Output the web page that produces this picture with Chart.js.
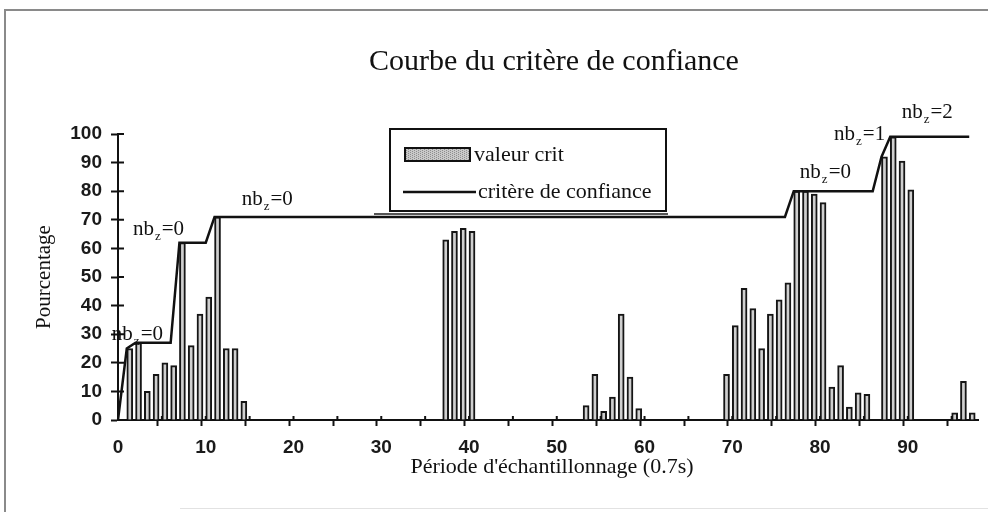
<!DOCTYPE html>
<html>
<head>
<meta charset="utf-8">
<title>Courbe du critère de confiance</title>
<script src="https://cdn.jsdelivr.net/npm/chart.js@4.4.1/dist/chart.umd.min.js"></script>
<style>
body { margin: 0; background: #fff; }
#box { width: 988px; height: 524px; }
</style>
</head>
<body>
<div id="box"><canvas id="myChart" width="988" height="524"></canvas></div>
<script>
// periodes 0..98 (axe des abscisses)
const periodes = Array.from({ length: 99 }, (_, i) => String(i));
const xTicks = [0, 10, 20, 30, 40, 50, 60, 70, 80, 90];
const yTicks = [0, 10, 20, 30, 40, 50, 60, 70, 80, 90, 100];

// valeur crit, une barre par periode (0..97)
const valeurCrit = [
  0, 25, 27, 10, 16, 20, 19, 62, 26, 37,
  43, 71, 25, 25, 6.5, 0, 0, 0, 0, 0,
  0, 0, 0, 0, 0, 0, 0, 0, 0, 0,
  0, 0, 0, 0, 0, 0, 0, 63, 66, 67,
  66, 0, 0, 0, 0, 0, 0, 0, 0, 0,
  0, 0, 0, 5, 16, 3, 8, 37, 15, 4,
  0, 0, 0, 0, 0, 0, 0, 0, 0, 16,
  33, 46, 39, 25, 37, 42, 48, 80, 80, 79,
  76, 11.5, 19, 4.5, 9.5, 9, 0, 92, 99, 90.5,
  80.5, 0, 0, 0, 0, 2.5, 13.5, 2.5
];

// critere de confiance (0..97)
const critereConfiance = [
  0, 25, 27, 27, 27, 27, 27, 62, 62, 62,
  62, 71, 71, 71, 71, 71, 71, 71, 71, 71,
  71, 71, 71, 71, 71, 71, 71, 71, 71, 71,
  71, 71, 71, 71, 71, 71, 71, 71, 71, 71,
  71, 71, 71, 71, 71, 71, 71, 71, 71, 71,
  71, 71, 71, 71, 71, 71, 71, 71, 71, 71,
  71, 71, 71, 71, 71, 71, 71, 71, 71, 71,
  71, 71, 71, 71, 71, 71, 71, 80, 80, 80,
  80, 80, 80, 80, 80, 80, 80, 92, 99, 99,
  99, 99, 99, 99, 99, 99, 99, 99
];

// etiquettes nb_z (position en coordonnees du graphe)
const nbzLabels = [
  { suffix: '=0', x: -0.7, y: 28 },
  { suffix: '=0', x: 1.7, y: 64.7 },
  { suffix: '=0', x: 14.1, y: 75.2 },
  { suffix: '=0', x: 77.7, y: 84.6 },
  { suffix: '=1', x: 81.6, y: 98 },
  { suffix: '=2', x: 89.3, y: 105.5 }
];

const serif = '"Liberation Serif", "Times New Roman", serif';
const sans = '"Liberation Sans", Arial, sans-serif';

function nbz(c, px, py, suffix) {
  c.font = '21px ' + serif;
  c.textAlign = 'left';
  c.textBaseline = 'alphabetic';
  c.fillText('nb', px, py);
  const w = c.measureText('nb').width;
  c.font = '13px ' + serif;
  c.fillText('z', px + w + 1, py + 5);
  const wz = c.measureText('z').width;
  c.font = '21px ' + serif;
  c.fillText(suffix, px + w + wz + 2, py);
}

const decor = {
  id: 'decor',
  beforeDraw(chart) {
    const c = chart.ctx;
    c.save();
    c.fillStyle = '#fff';
    c.fillRect(0, 0, chart.width, chart.height);
    // cadre
    c.strokeStyle = '#8a8a8a';
    c.lineWidth = 2;
    c.beginPath();
    c.moveTo(5, 512); c.lineTo(5, 10); c.lineTo(988, 10);
    c.stroke();
    c.strokeStyle = '#e2e2e2';
    c.lineWidth = 1;
    c.beginPath();
    c.moveTo(180, 508.5); c.lineTo(988, 508.5);
    c.stroke();
    c.restore();
  },
  afterDraw(chart) {
    const c = chart.ctx;
    const x = chart.scales.x, y = chart.scales.y;
    const area = chart.chartArea;
    c.save();

    // graduations vers l'interieur
    c.strokeStyle = '#111';
    c.lineWidth = 2;
    c.beginPath();
    yTicks.forEach(v => {
      const py = y.getPixelForValue(v);
      c.moveTo(area.left, py); c.lineTo(area.left + 6, py);
    });
    for (let i = 5; i < periodes.length; i += 5) {
      const px = x.getPixelForValue(i);
      c.moveTo(px, area.bottom); c.lineTo(px, area.bottom - 4);
    }
    c.stroke();

    c.fillStyle = '#111';
    // titre
    c.font = '30px ' + serif;
    c.textAlign = 'center';
    c.textBaseline = 'middle';
    c.fillText('Courbe du critère de confiance', 554, 62);

    // titres des axes
    c.font = '22px ' + serif;
    c.fillText("Période d'échantillonnage (0.7s)", 552, 467);
    c.save();
    c.translate(44, 277);
    c.rotate(-Math.PI / 2);
    c.font = '21px ' + serif;
    c.fillText('Pourcentage', 0, 0);
    c.restore();

    // legende
    c.strokeStyle = '#555';
    c.lineWidth = 2;
    c.beginPath();
    c.moveTo(374, 214); c.lineTo(668, 214);
    c.stroke();
    c.fillStyle = '#fff';
    c.fillRect(390, 129, 276, 82);
    c.strokeStyle = '#111';
    c.strokeRect(390, 129, 276, 82);

    c.fillStyle = '#c9c9c9';
    c.fillRect(405, 148, 65, 13);
    c.fillStyle = '#8d8d8d';
    for (let dx = 406; dx < 470; dx += 2) {
      for (let dy = 149 + (dx % 4 === 0 ? 0 : 1); dy < 161; dy += 2) c.fillRect(dx, dy, 1, 1);
    }
    c.strokeStyle = '#111';
    c.lineWidth = 2;
    c.strokeRect(405, 148, 65, 13);

    c.beginPath();
    c.lineWidth = 2.5;
    c.moveTo(403, 192); c.lineTo(476, 192);
    c.stroke();

    c.fillStyle = '#111';
    c.font = '22px ' + serif;
    c.textAlign = 'left';
    c.fillText('valeur crit', 474, 155);
    c.fillText('critère de confiance', 478, 192);

    // nb_z
    nbzLabels.forEach(l => {
      nbz(c, x.getPixelForValue(l.x), y.getPixelForValue(l.y), l.suffix);
    });

    c.restore();
  }
};

new Chart('myChart', {
  type: 'bar',
  data: {
    labels: periodes,
    datasets: [
      {
        type: 'line',
        label: 'critère de confiance',
        data: critereConfiance,
        xAxisID: 'x',
        borderColor: '#111',
        borderWidth: 2.5,
        pointRadius: 0,
        tension: 0,
        order: 0
      },
      {
        label: 'valeur crit',
        data: valeurCrit,
        xAxisID: 'xb',
        backgroundColor: '#cfcfcf',
        borderColor: '#151515',
        borderWidth: 2,
        barThickness: 6,
        order: 1
      }
    ]
  },
  options: {
    responsive: false,
    animation: false,
    layout: { padding: { top: 134, right: 10, left: 0, bottom: 0 } },
    plugins: {
      legend: { display: false },
      title: { display: false },
      tooltip: { enabled: false }
    },
    scales: {
      x: {
        type: 'category',
        labels: periodes,
        offset: false,
        grid: {
          drawOnChartArea: false,
          tickLength: 6,
          tickWidth: 2,
          tickColor: ctx => (ctx.index % 5 === 0 ? '#111' : 'rgba(0,0,0,0)')
        },
        border: { color: '#111', width: 2 },
        ticks: {
          autoSkip: false,
          maxRotation: 0,
          padding: 10,
          color: '#1a1a1a',
          font: { family: sans, size: 19, weight: 'bold' },
          callback: function (val, i) {
            return xTicks.includes(i) ? this.getLabelForValue(val) : '';
          }
        },
        afterFit: s => { s.height = 104; }
      },
      xb: {
        type: 'category',
        labels: periodes,
        offset: false,
        display: false
      },
      y: {
        min: 0,
        max: 100,
        grid: { drawOnChartArea: false, tickLength: 7, tickWidth: 2, tickColor: '#111' },
        border: { color: '#111', width: 2 },
        ticks: {
          stepSize: 10,
          padding: 9,
          color: '#1a1a1a',
          font: { family: sans, size: 19, weight: 'bold' }
        },
        afterFit: s => { s.width = 118; }
      }
    }
  },
  plugins: [decor]
});
</script>
</body>
</html>
